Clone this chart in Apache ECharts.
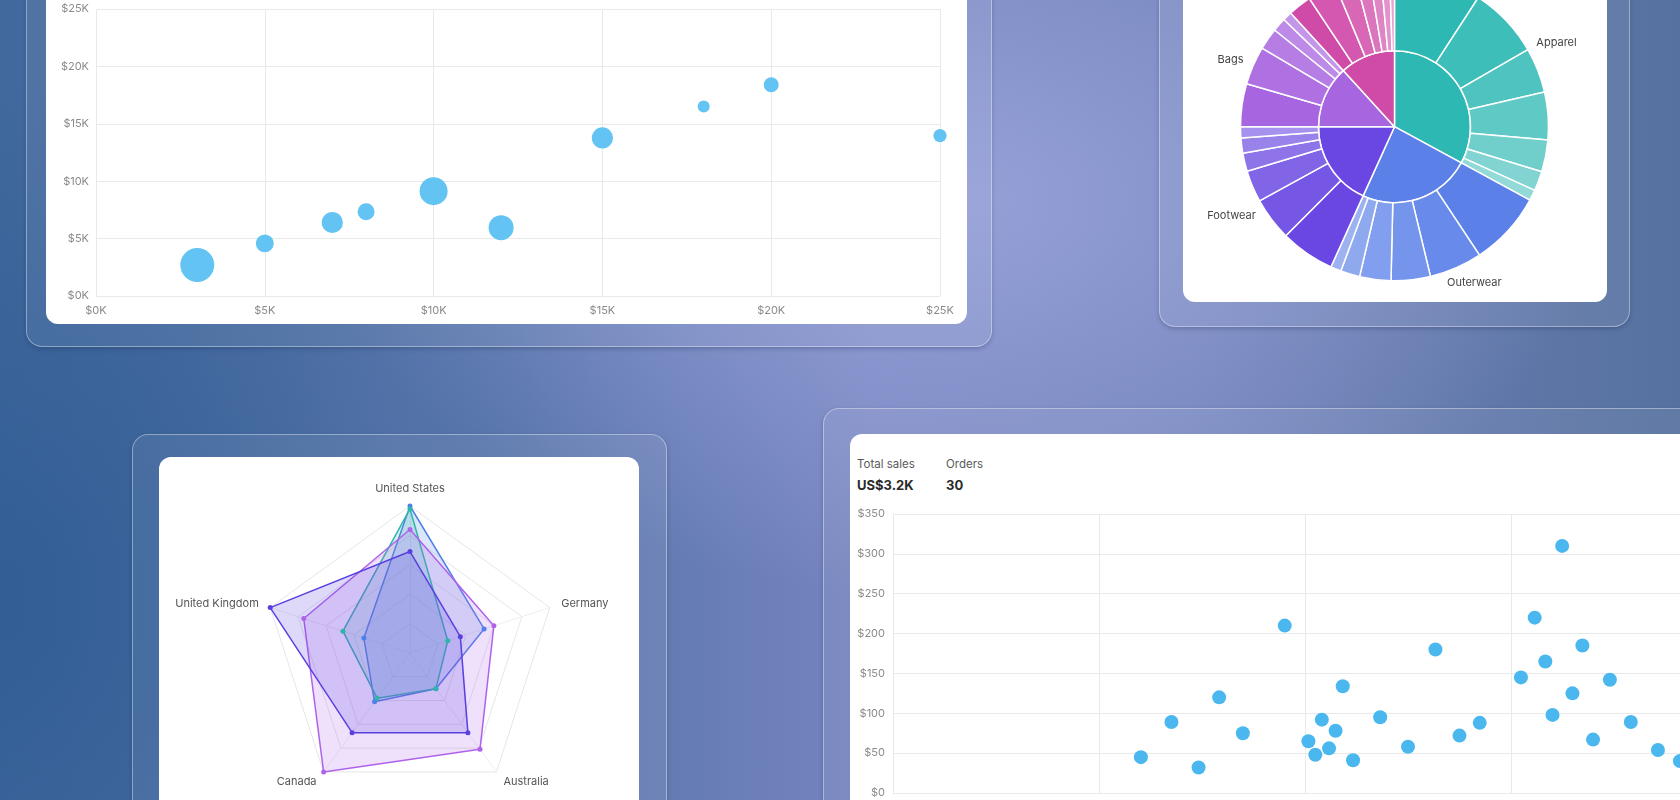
<!DOCTYPE html>
<html>
<head>
<meta charset="utf-8">
<script src="https://cdn.jsdelivr.net/npm/echarts@6/dist/echarts.min.js"></script>
<style>
  html, body { margin: 0; padding: 0; width: 1680px; height: 800px; overflow: hidden; }
  body {
    position: relative;
    font-family: Inter, "Noto Sans", sans-serif;
    background:
      radial-gradient(ellipse 640px 400px at 960px 200px, rgba(155, 165, 220, 0.85), rgba(155, 165, 220, 0) 100%),
      radial-gradient(ellipse 420px 520px at 0px 600px, rgba(48, 92, 148, 0.9), rgba(48, 92, 148, 0) 100%),
      linear-gradient(90deg, #41699d 0%, #5674aa 30%, #7684bf 52%, #6f81b8 72%, #56719f 100%);
  }
  .frame {
    position: absolute; box-sizing: border-box;
    border-radius: 16px;
    border: 1.5px solid rgba(255, 255, 255, 0.38);
    background: rgba(255, 255, 255, 0.07);
    box-shadow: 0 2px 4px rgba(20, 30, 70, 0.25);
  }
  .card { position: absolute; border-radius: 12px; background: #fff; }
  .kpi { position: absolute; white-space: nowrap; }
  .kpi .lbl { font-size: 11.5px; color: #5a5a5a; line-height: 16px; }
  .kpi .val { font-size: 13px; font-weight: 700; color: #2a2a2a; line-height: 18px; margin-top: 4px; }
  #chart { position: absolute; left: 0; top: 0; width: 1680px; height: 800px; }
</style>
</head>
<body>
  <!-- glass frames + white cards -->
  <div class="frame" style="left:26px;top:-40px;width:966px;height:387px"></div>
  <div class="card" style="left:46px;top:-20px;width:921px;height:344px"></div>

  <div class="frame" style="left:1159px;top:-40px;width:471px;height:367px"></div>
  <div class="card" style="left:1183px;top:-20px;width:424px;height:322px"></div>

  <div class="frame" style="left:132px;top:434px;width:535px;height:420px"></div>
  <div class="card" style="left:159px;top:457px;width:480px;height:400px"></div>

  <div class="frame" style="left:823px;top:408px;width:1000px;height:500px"></div>
  <div class="card" style="left:850px;top:434px;width:1000px;height:500px"></div>

  <div class="kpi" style="left:857px;top:456px">
    <div class="lbl">Total sales</div>
    <div class="val" id="totalSales"></div>
  </div>
  <div class="kpi" style="left:946px;top:456px">
    <div class="lbl">Orders</div>
    <div class="val" id="orderCount"></div>
  </div>

  <div id="chart"></div>

<script>
// ---- bubble chart: revenue vs profit, bubble = orders
const bubbleRevenue = [3000, 5000, 7000, 8000, 10000, 12000, 15000, 18000, 20000, 25000];
const bubbleProfit = [2700, 4580, 6400, 7340, 9130, 5950, 13770, 16500, 18400, 13970];
const bubbleOrders = [72, 20, 28, 18, 49, 39, 28, 9, 14, 11];

// ---- sunburst: categories and sub-category sales
const sunCategories = ['Apparel', 'Outerwear', 'Footwear', 'Bags', 'Accessories'];
const sunChildren = [
  [33, 27, 17, 18, 12, 7.4, 4.1],
  [28, 20, 14.8, 11.8, 7.3, 4],
  [20.5, 16.3, 12, 6.9, 5.7, 4.2],
  [16.2, 14.5, 8.2, 5.2, 3.5],
  [8.8, 10.9, 8, 5.3, 4.3, 3.3, 1.8]
];

// ---- radar: sales by country (counter-clockwise from top)
const radarCountries = ['United States', 'United Kingdom', 'Canada', 'Australia', 'Germany'];
const radarSeries = ['Outerwear', 'Apparel', 'Bags', 'Footwear'];
const radarValues = [
  [100, 33, 41, 30, 53],
  [98, 48, 38, 30, 27],
  [84, 76, 100, 81, 60],
  [69, 100, 67, 67, 36]
];

// ---- orders scatter: hour of day vs order amount
const orderHours = [7.22, 8.11, 8.9, 9.5, 10.19, 11.41, 12.1, 12.3, 12.49, 12.7, 12.89, 13.1, 13.4, 14.19, 15.0,
  15.8, 16.5, 17.09, 18.29, 18.69, 19.0, 19.21, 19.49, 19.79, 20.08, 20.39, 20.88, 21.49, 22.28, 22.92];
const orderAmounts = [45, 89, 32, 120, 75, 210, 65, 48, 92, 56, 78, 134, 41, 95, 58,
  180, 72, 88, 145, 220, 165, 98, 310, 125, 185, 67, 142, 89, 54, 40];

// colours
const catColors = ['#2db8b3', '#5b80e8', '#6a47e2', '#a865e0', '#d04aa8'];
const radarColors = ['#4f80e8', '#2fb6aa', '#b062ea', '#5a40e0'];

function lighten(hex, t) {
  const n = parseInt(hex.slice(1), 16);
  const r = (n >> 16) & 255, g = (n >> 8) & 255, b = n & 255;
  const m = c => Math.round(c + (255 - c) * t);
  return 'rgb(' + m(r) + ',' + m(g) + ',' + m(b) + ')';
}

const sunData = sunCategories.map((name, i) => ({
  name: name,
  itemStyle: { color: catColors[i] },
  children: sunChildren[i].map((v, j) => ({
    name: name + ' ' + (j + 1),
    value: v,
    itemStyle: { color: lighten(catColors[i], j * 0.08) }
  }))
}));

const total = orderAmounts.reduce((a, b) => a + b, 0);
document.getElementById('totalSales').textContent = 'US$' + (total / 1000).toFixed(1) + 'K';
document.getElementById('orderCount').textContent = orderAmounts.length;

const axisLabel = { color: '#8a8a8a', fontSize: 11, fontFamily: 'Inter' };
const splitLine = { show: true, lineStyle: { color: '#e9e9e9', width: 1 } };

const chart = echarts.init(document.getElementById('chart'));
chart.setOption({
  animation: false,
  backgroundColor: 'transparent',
  textStyle: { fontFamily: 'Inter' },
  grid: [
    { left: 96, top: 9, width: 844, height: 287, outerBoundsMode: 'none' },
    { left: 893, top: 514, width: 824, height: 279, outerBoundsMode: 'none' }
  ],
  xAxis: [
    {
      gridIndex: 0, type: 'value', min: 0, max: 25000, interval: 5000,
      axisLine: { show: false }, axisTick: { show: false }, splitLine: splitLine,
      axisLabel: Object.assign({ margin: 9, formatter: v => '$' + v / 1000 + 'K' }, axisLabel)
    },
    {
      gridIndex: 1, type: 'value', min: 0, max: 24, interval: 6,
      axisLine: { show: false }, axisTick: { show: false }, splitLine: splitLine,
      axisLabel: Object.assign({ margin: 9 }, axisLabel)
    }
  ],
  yAxis: [
    {
      gridIndex: 0, type: 'value', min: 0, max: 25000, interval: 5000,
      axisLine: { show: false }, axisTick: { show: false }, splitLine: splitLine,
      axisLabel: Object.assign({ margin: 7, formatter: v => '$' + v / 1000 + 'K' }, axisLabel)
    },
    {
      gridIndex: 1, type: 'value', min: 0, max: 350, interval: 50,
      axisLine: { show: false }, axisTick: { show: false }, splitLine: splitLine,
      axisLabel: Object.assign({ margin: 8, formatter: v => '$' + v }, axisLabel)
    }
  ],
  radar: {
    center: [410, 653],
    radius: 147,
    startAngle: 90,
    splitNumber: 5,
    shape: 'polygon',
    nameGap: 12,
    indicator: radarCountries.map(n => ({ name: n, max: 100 })),
    axisName: { color: '#555', fontSize: 11, fontFamily: 'Inter' },
    splitLine: { lineStyle: { color: '#e6e6e6' } },
    splitArea: { show: false },
    axisLine: { lineStyle: { color: '#eeeeee' } },
    axisTick: { show: false }
  },
  series: [
    {
      type: 'scatter', xAxisIndex: 0, yAxisIndex: 0,
      data: bubbleRevenue.map((x, i) => [x, bubbleProfit[i], bubbleOrders[i]]),
      symbolSize: d => Math.sqrt(d[2]) * 4,
      itemStyle: { color: '#63c3f2', opacity: 1 }
    },
    {
      type: 'scatter', xAxisIndex: 1, yAxisIndex: 1,
      data: orderHours.map((h, i) => [h, orderAmounts[i]]),
      symbolSize: 14,
      itemStyle: { color: '#4bb7ef', opacity: 1 }
    },
    {
      type: 'sunburst',
      center: [1394.5, 126.7],
      radius: [0, 154],
      sort: null,
      startAngle: 90,
      nodeClick: false,
      data: sunData,
      itemStyle: { borderColor: '#fff', borderWidth: 1.5 },
      levels: [
        {},
        { r0: 0, r: 76, label: { position: 'outside', rotate: 0, distance: 89, color: '#444', fontSize: 11 } },
        { r0: 76, r: 154, label: { show: false } }
      ]
    },
    {
      type: 'radar',
      symbol: 'circle',
      symbolSize: 5,
      data: radarValues.map((vals, i) => ({
        name: radarSeries[i],
        value: vals,
        lineStyle: { color: radarColors[i], width: 1.5 },
        itemStyle: { color: radarColors[i] },
        areaStyle: { color: radarColors[i], opacity: 0.2 }
      }))
    }
  ]
});
</script>
</body>
</html>
